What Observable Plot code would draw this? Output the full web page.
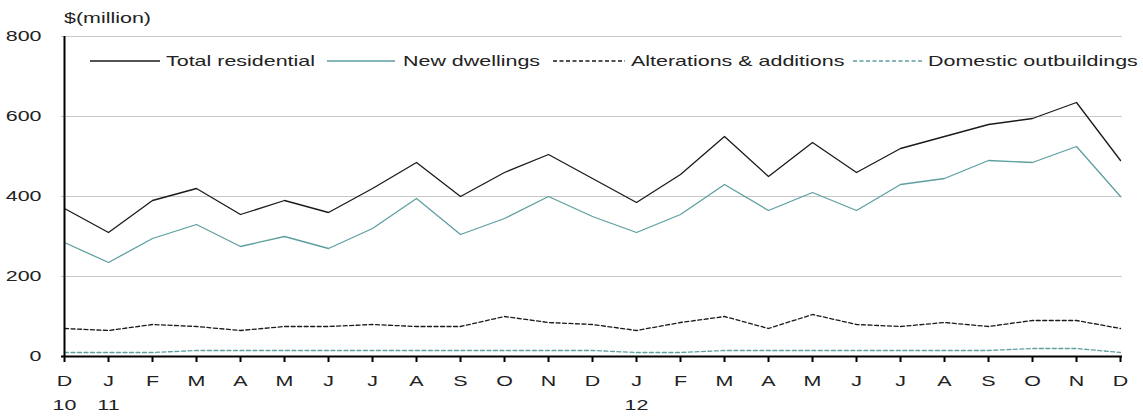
<!DOCTYPE html>
<html>
<head>
<meta charset="utf-8">
<script src="https://cdn.jsdelivr.net/npm/d3@7"></script>
<script src="https://cdn.jsdelivr.net/npm/@observablehq/plot@0.6"></script>
<style>
  html, body { margin: 0; padding: 0; background: #fff; }
  #wrap { position: relative; width: 1143px; height: 417px; font-family: "Liberation Sans", Arial, sans-serif; }
  #unit { position: absolute; left: 64px; top: 9px; font-size: 15px; line-height: 18px; color: #222; transform: scaleX(1.43); transform-origin: left center; white-space: nowrap; }
  #legend { position: absolute; left: 0; top: 0; width: 1143px; height: 80px; font-size: 15px; color: #222; }
  #legend .sample { position: absolute; top: 58px; }
  #legend .label { position: absolute; top: 52px; line-height: 18px; white-space: nowrap; transform: scaleX(1.43); transform-origin: left center; }
  #chart { position: absolute; left: 0; top: 0; }
</style>
</head>
<body>
<div id="wrap">
  <div id="chart"></div>
  <div id="unit">$(million)</div>
  <div id="legend"></div>
</div>
<script>
const months = ["2010-12","2011-01","2011-02","2011-03","2011-04","2011-05","2011-06","2011-07","2011-08","2011-09","2011-10","2011-11","2011-12",
                "2012-01","2012-02","2012-03","2012-04","2012-05","2012-06","2012-07","2012-08","2012-09","2012-10","2012-11","2012-12"];
const tickLabels = ["D\n10","J\n11","F","M","A","M","J","J","A","S","O","N","D",
                    "J\n12","F","M","A","M","J","J","A","S","O","N","D"];
const totalResidential = [370,310,390,420,355,390,360,420,485,400,460,505,445,385,455,550,450,535,460,520,550,580,595,635,490];
const newDwellings     = [285,235,295,330,275,300,270,320,395,305,345,400,350,310,355,430,365,410,365,430,445,490,485,525,400];
const alterations      = [70,65,80,75,65,75,75,80,75,75,100,85,80,65,85,100,70,105,80,75,85,75,90,90,70];
const outbuildings     = [10,10,10,15,15,15,15,15,15,15,15,15,15,10,10,15,15,15,15,15,15,15,20,20,10];
const yTicks = [0,200,400,600,800];
const seriesNames = ["Total residential","New dwellings","Alterations & additions","Domestic outbuildings"];

const seriesDefs = [
  {name: seriesNames[0], values: totalResidential, color: "#1a1a1a", dash: null},
  {name: seriesNames[1], values: newDwellings, color: "#5e9fa0", dash: null},
  {name: seriesNames[2], values: alterations, color: "#1a1a1a", dash: "4,2.5"},
  {name: seriesNames[3], values: outbuildings, color: "#5e9fa0", dash: "4,2.5"}
];
// legend layout (pixel placement of the legend entries)
const legendPos = [
  {lineX: 90, lineW: 70, textX: 166},
  {lineX: 327, lineW: 68, textX: 403},
  {lineX: 553, lineW: 72, textX: 631},
  {lineX: 853, lineW: 69, textX: 928}
];

const labelOf = new Map(months.map((m, i) => [m, tickLabels[i]]));

const marks = [
  Plot.ruleY(yTicks.filter(d => d > 0), {stroke: "#c8c8c8", strokeWidth: 1})
];
for (const s of seriesDefs) {
  const data = months.map((m, i) => ({month: m, value: s.values[i]}));
  marks.push(Plot.line(data, {x: "month", y: "value", stroke: s.color, strokeWidth: 1.3, strokeDasharray: s.dash}));
}
marks.push(Plot.ruleX([months[0]], {stroke: "#000", strokeWidth: 2}));
marks.push(Plot.ruleY([0], {stroke: "#000", strokeWidth: 2}));

const chart = Plot.plot({
  width: 1143,
  height: 417,
  marginLeft: 61,
  marginRight: 21,
  marginTop: 36,
  marginBottom: 61,
  style: {fontFamily: "Liberation Sans, Arial, sans-serif", fontSize: "15px", color: "#222", background: "#fff"},
  x: {type: "point", domain: months, padding: 0, label: null},
  y: {domain: [0, 800], label: null},
  marks: [
    ...marks,
    Plot.axisX({tickSize: 6, tickPadding: 6, tickFormat: d => labelOf.get(d), fontSize: 15, stroke: "#000", strokeWidth: 2, lineHeight: 1.6}),
    Plot.axisY({ticks: yTicks, tickSize: 0, tickPadding: 20, fontSize: 15})
  ]
});

// horizontally stretch text glyphs (about each label's own anchor) like the reference rendering
for (const t of chart.querySelectorAll("text")) {
  const xa = t.getAttribute("x");
  const x = xa != null && isFinite(+xa) ? +xa : 0;
  const tr = t.getAttribute("transform") || "";
  t.setAttribute("transform", `${tr} translate(${x},0) scale(1.43,1) translate(${-x},0)`);
}
document.getElementById("chart").appendChild(chart);

const legend = document.getElementById("legend");
seriesDefs.forEach((s, i) => {
  const p = legendPos[i];
  const svg = document.createElementNS("http://www.w3.org/2000/svg", "svg");
  svg.setAttribute("class", "sample");
  svg.setAttribute("width", p.lineW);
  svg.setAttribute("height", 6);
  svg.style.left = p.lineX + "px";
  svg.innerHTML = `<line x1="0" y1="3" x2="${p.lineW}" y2="3" stroke="${s.color}" stroke-width="1.3" ${s.dash ? `stroke-dasharray="${s.dash}"` : ""}/>`;
  legend.appendChild(svg);
  const span = document.createElement("span");
  span.className = "label";
  span.style.left = p.textX + "px";
  span.textContent = s.name;
  legend.appendChild(span);
});
</script>
</body>
</html>
